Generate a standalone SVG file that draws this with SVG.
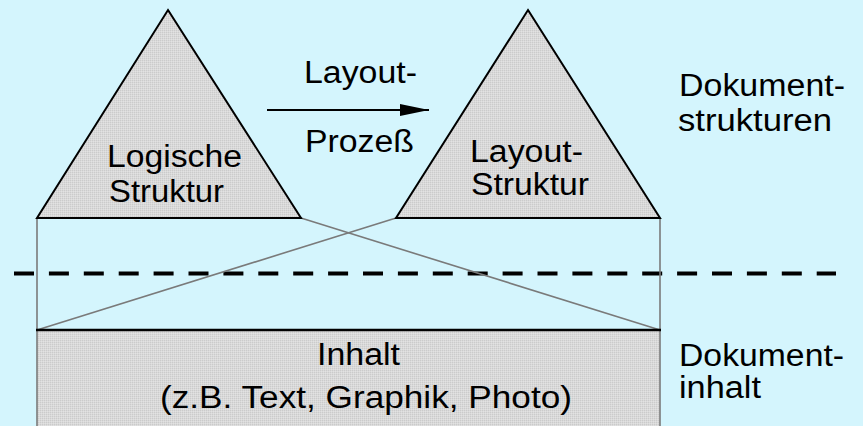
<svg xmlns="http://www.w3.org/2000/svg" width="863" height="426" viewBox="0 0 863 426">
  <defs>
    <!-- fine stipple used for the grey shapes -->
    <pattern id="stipple" width="2" height="2" patternUnits="userSpaceOnUse">
      <rect width="2" height="2" fill="#d9d9d9"/>
      <rect width="1" height="1" fill="#cbcbcb"/>
      <rect x="1" y="1" width="1" height="1" fill="#e2e2e2"/>
    </pattern>
    <marker id="head" markerWidth="30" markerHeight="14" refX="29" refY="6" orient="auto" markerUnits="userSpaceOnUse">
      <polygon points="0,0 29,6 0,12" fill="#000"/>
    </marker>
  </defs>
  <style>
    text { font-family: "Liberation Sans", Arial, sans-serif; font-size: 31px; fill: #000; }
    .shape { fill: url(#stipple); stroke: #000; stroke-width: 2; stroke-linejoin: miter; }
    .link { stroke: #7a7a7a; stroke-width: 1.6; fill: none; }
  </style>

  <rect width="863" height="426" fill="#d4f5fd"/>

  <!-- separator between structure and content -->
  <line x1="14" y1="273.5" x2="836" y2="273.5" stroke="#000" stroke-width="4" stroke-dasharray="20 14.9"/>

  <g id="connectors">
    <line class="link" x1="37" y1="218" x2="37" y2="330"/>
    <line class="link" x1="660" y1="218" x2="660" y2="330"/>
    <line class="link" x1="301" y1="218" x2="660" y2="330"/>
    <line class="link" x1="396" y1="218" x2="37" y2="330"/>
    <line x1="267" y1="110" x2="429" y2="110" stroke="#000" stroke-width="2" marker-end="url(#head)"/>
  </g>

  <g id="logische-struktur">
    <polygon class="shape" points="168,10 301,218 37,218"/>
    <text x="107" y="167" textLength="135" lengthAdjust="spacingAndGlyphs">Logische</text>
    <text x="109" y="202" textLength="115" lengthAdjust="spacingAndGlyphs">Struktur</text>
  </g>

  <g id="layout-struktur">
    <polygon class="shape" points="528,10 660,218 396,218"/>
    <text x="470" y="162" textLength="113" lengthAdjust="spacingAndGlyphs">Layout-</text>
    <text x="471" y="195" textLength="118" lengthAdjust="spacingAndGlyphs">Struktur</text>
  </g>

  <g id="layout-prozess">
    <text x="304" y="83" textLength="113" lengthAdjust="spacingAndGlyphs">Layout-</text>
    <text x="305" y="152" textLength="109" lengthAdjust="spacingAndGlyphs">Prozeß</text>
  </g>

  <g id="inhalt">
    <rect x="37" y="330" width="623" height="110" fill="url(#stipple)"/>
    <line x1="37" y1="330" x2="37" y2="426" class="link"/>
    <line x1="660" y1="330" x2="660" y2="426" class="link"/>
    <line x1="36" y1="330" x2="661" y2="330" stroke="#000" stroke-width="2.5"/>
    <text x="317" y="365" textLength="83" lengthAdjust="spacingAndGlyphs">Inhalt</text>
    <text x="160" y="408" textLength="412" lengthAdjust="spacingAndGlyphs">(z.B. Text, Graphik, Photo)</text>
  </g>

  <g id="dokumentstrukturen">
    <text x="679" y="96" textLength="166" lengthAdjust="spacingAndGlyphs">Dokument-</text>
    <text x="678" y="131" textLength="154" lengthAdjust="spacingAndGlyphs">strukturen</text>
  </g>

  <g id="dokumentinhalt">
    <text x="679" y="366" textLength="165" lengthAdjust="spacingAndGlyphs">Dokument-</text>
    <text x="679" y="398" textLength="82" lengthAdjust="spacingAndGlyphs">inhalt</text>
  </g>
</svg>
